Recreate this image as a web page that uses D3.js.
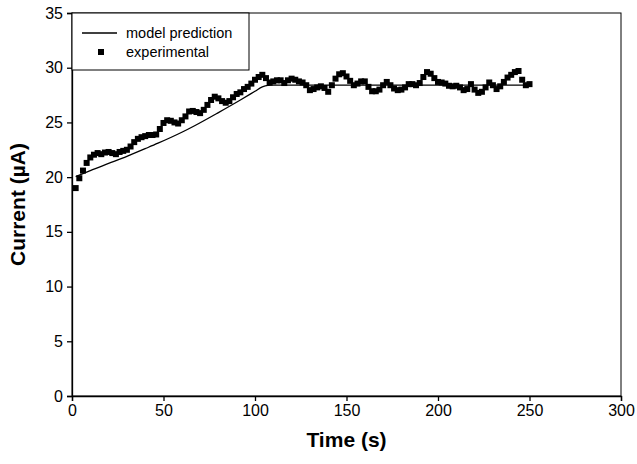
<!DOCTYPE html>
<html>
<head>
<meta charset="utf-8">
<script src="https://cdn.jsdelivr.net/npm/d3@7"></script>
<style>
    body { margin: 0; background: #fff; }
    #graph { width: 637px; height: 464px; }
    text { font-family: "Liberation Sans", Arial, sans-serif; fill: #000; }
</style>
</head>
<body>
<div id="graph"></div>
<script>
// Experimental current readings (time in s, current in uA)
const expTime = [2, 4, 6, 8, 10, 12, 14, 16, 18, 20, 22, 24, 26, 28, 30, 32, 34, 36, 38, 40,
    42, 44, 46, 48, 50, 52, 54, 56, 58, 60, 62, 64, 66, 68, 70, 72, 74, 76, 78, 80,
    82, 84, 86, 88, 90, 92, 94, 96, 98, 100, 102, 104, 106, 108, 110, 112, 114, 116, 118, 120,
    122, 124, 126, 128, 130, 132, 134, 136, 138, 140, 142, 144, 146, 148, 150, 152, 154, 156, 158, 160,
    162, 164, 166, 168, 170, 172, 174, 176, 178, 180, 182, 184, 186, 188, 190, 192, 194, 196, 198, 200,
    202, 204, 206, 208, 210, 212, 214, 216, 218, 220, 222, 224, 226, 228, 230, 232, 234, 236, 238, 240,
    242, 244, 246, 248, 250];
const expCurrent = [19.0, 19.9, 20.6, 21.3, 21.8, 22.05, 22.2, 22.1, 22.25, 22.3, 22.2, 22.1, 22.3, 22.4, 22.5, 22.8, 23.2, 23.5, 23.65, 23.75,
    23.85, 23.85, 23.9, 24.4, 24.95, 25.2, 25.15, 25.0, 24.9, 25.2, 25.55, 26.0, 26.05, 25.95, 25.85, 26.15, 26.6, 27.05, 27.35, 27.2,
    26.95, 26.8, 26.95, 27.3, 27.6, 27.75, 28.05, 28.25, 28.55, 28.9, 29.15, 29.35, 29.05, 28.65, 28.75, 28.85, 28.85, 28.6, 28.85, 29.0,
    28.9, 28.75, 28.65, 28.4, 27.95, 28.05, 28.2, 28.3, 28.15, 27.8, 28.4, 29.0, 29.4, 29.5, 29.2, 28.8, 28.4, 28.55, 28.75, 28.75,
    28.25, 27.85, 27.85, 28.0, 28.4, 28.7, 28.4, 28.1, 27.95, 28.0, 28.2, 28.5, 28.5, 28.4, 28.6, 29.15, 29.6, 29.45, 29.05, 28.7,
    28.65, 28.55, 28.35, 28.3, 28.35, 28.2, 27.95, 28.05, 28.5, 28.0, 27.7, 27.8, 28.2, 28.65, 28.4, 28.05, 28.3, 28.7, 29.1, 29.35,
    29.6, 29.7, 28.9, 28.4, 28.5];

// Model prediction curve
const modelTime = [2, 10, 20, 30, 40, 47, 60, 67, 80, 92, 100, 104, 107, 110, 150, 200, 250];
const modelCurrent = [20.05, 20.6, 21.25, 21.9, 22.6, 23.1, 24.1, 24.7, 25.9, 27.05, 27.85, 28.25, 28.38, 28.4, 28.4, 28.4, 28.4];

const xTicks = [0, 50, 100, 150, 200, 250, 300];
const yTicks = [0, 5, 10, 15, 20, 25, 30, 35];
const legendLabels = ['model prediction', 'experimental'];

document.addEventListener('DOMContentLoaded', () => {
    const width = 637;
    const height = 464;
    const margin = { left: 72, right: 16, top: 13, bottom: 68 };

    const svg = d3.select('#graph')
        .append('svg')
        .attr('width', width)
        .attr('height', height);

    const x = d3.scaleLinear().domain([0, 300]).range([margin.left, width - margin.right]);
    const y = d3.scaleLinear().domain([0, 35]).range([height - margin.bottom, margin.top]);

    // Plot frame
    svg.append('rect')
        .attr('x', x(0))
        .attr('y', y(35))
        .attr('width', x(300) - x(0))
        .attr('height', y(0) - y(35))
        .attr('fill', 'none')
        .attr('stroke', '#000')
        .attr('stroke-width', 1);

    // Axes
    const xAxis = svg.append('g')
        .attr('transform', `translate(0,${y(0)})`)
        .call(d3.axisBottom(x).tickValues(xTicks).tickSize(5).tickPadding(4));
    const yAxis = svg.append('g')
        .attr('transform', `translate(${x(0)},0)`)
        .call(d3.axisLeft(y).tickValues(yTicks).tickSize(5).tickPadding(4));

    [xAxis, yAxis].forEach(ax => {
        ax.select('.domain').attr('stroke', '#000').attr('stroke-width', 1.3);
        ax.selectAll('line').attr('stroke', '#000').attr('stroke-width', 1.3);
        ax.selectAll('text')
            .attr('font-family', '"Liberation Sans", Arial, sans-serif')
            .attr('font-size', 16)
            .attr('fill', '#000');
    });

    // Axis titles
    svg.append('text')
        .attr('x', (x(0) + x(300)) / 2)
        .attr('y', 447)
        .attr('text-anchor', 'middle')
        .attr('font-size', 21)
        .attr('font-weight', 'bold')
        .text('Time (s)');

    svg.append('text')
        .attr('transform', `translate(25,${(y(0) + y(35)) / 2}) rotate(-90)`)
        .attr('text-anchor', 'middle')
        .attr('font-size', 21)
        .attr('font-weight', 'bold')
        .text('Current (\u00b5A)');

    // Model line
    const modelData = modelTime.map((t, i) => ({ t, v: modelCurrent[i] }));
    svg.append('path')
        .datum(modelData)
        .attr('fill', 'none')
        .attr('stroke', '#000')
        .attr('stroke-width', 1.3)
        .attr('d', d3.line().x(d => x(d.t)).y(d => y(d.v)).curve(d3.curveMonotoneX));

    // Experimental points
    const expData = expTime.map((t, i) => ({ t, v: expCurrent[i] }));
    const sq = 6;
    svg.append('g')
        .selectAll('rect')
        .data(expData)
        .enter()
        .append('rect')
        .attr('x', d => x(d.t) - sq / 2)
        .attr('y', d => y(d.v) - sq / 2)
        .attr('width', sq)
        .attr('height', sq)
        .attr('fill', '#000');

    // Legend
    const lg = svg.append('g');
    lg.append('rect')
        .attr('x', x(0))
        .attr('y', y(35))
        .attr('width', 177)
        .attr('height', 57)
        .attr('fill', '#fff')
        .attr('stroke', '#000')
        .attr('stroke-width', 1);
    lg.append('line')
        .attr('x1', 82).attr('x2', 117)
        .attr('y1', 33).attr('y2', 33)
        .attr('stroke', '#000')
        .attr('stroke-width', 1.3);
    lg.append('rect')
        .attr('x', 101 - 3)
        .attr('y', 52 - 3)
        .attr('width', 6)
        .attr('height', 6)
        .attr('fill', '#000');
    lg.selectAll('text.lab')
        .data(legendLabels)
        .enter()
        .append('text')
        .attr('class', 'lab')
        .attr('x', 126)
        .attr('y', (d, i) => 33 + i * 19)
        .attr('dy', '0.35em')
        .attr('font-size', 14.5)
        .text(d => d);
});
</script>
</body>
</html>
